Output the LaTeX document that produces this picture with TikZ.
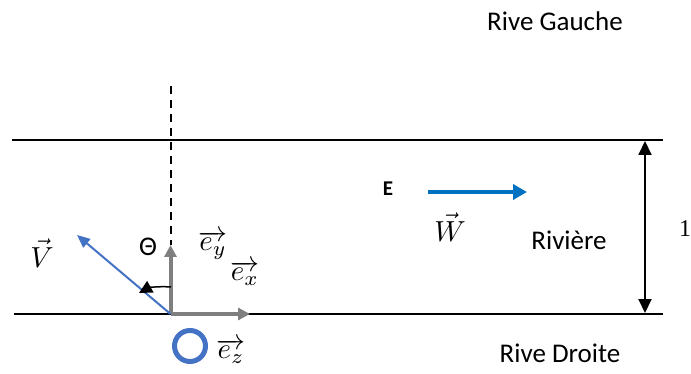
\documentclass[tikz,border=0pt]{standalone}
\usepackage{graphicx}
\usepackage{fontspec}
\setmainfont{Carlito}
\newfontfamily\serifone{Liberation Serif}
\usetikzlibrary{arrows.meta}
\definecolor{wblue}{HTML}{0070C0}
\definecolor{vblue}{HTML}{4472C4}
\definecolor{axgray}{HTML}{7F7F7F}
\newcommand{\bigmath}[1]{\scalebox{2.9}{$#1$}}
\begin{document}
\begin{tikzpicture}[x=1pt,y=-1pt,
  lbl/.style={inner sep=0pt,font=\fontsize{27}{30}\selectfont},
  mlbl/.style={inner sep=0pt},
  bank/.style={line width=2pt},
  axis/.style={axgray,line width=4pt,-{Triangle[length=12pt,width=12pt]}},
  vvec/.style={vblue,line width=2pt,-{Triangle[length=13pt,width=11pt]}},
  wvec/.style={wblue,line width=4pt,-{Triangle[length=14pt,width=15pt]}},
  dbl/.style={line width=2pt,{Triangle[length=14pt,width=13pt]}-{Triangle[length=14pt,width=13pt]}},
  angarr/.style={line width=1.5pt,-{Triangle[length=13pt,width=13pt]}}]
\useasboundingbox (0,0) rectangle (691,374);
% banks
\coordinate (tl) at (12,140);
\coordinate (tr) at (663,140);
\coordinate (bl) at (14,314);
\coordinate (br) at (663,314);
\draw[bank] (tl) -- (tr);
\draw[bank] (bl) -- (br);
% origin and axes
\coordinate (O) at (170.5,314);
\coordinate (dtop) at (170.5,86);
\coordinate (eytip) at (170.5,245);
\coordinate (extip) at (250,314);
\draw[line width=2pt,dash pattern=on 8pt off 6pt] (dtop) -- (eytip);
\draw[axis] (O) -- (eytip);
\draw[axis] (O) -- (extip);
% V vector
\coordinate (vtip) at (77,235);
\draw[vvec] (O) -- (vtip);
% angle arrow
\coordinate (a1) at (171,287);
\coordinate (a2) at (139,293);
\draw[angarr] (a1) .. controls (158,286) and (148,288) .. (a2);
% ez circle
\node[draw=vblue,line width=5pt,circle,minimum size=31pt,inner sep=0pt] (ez) at (190,346) {};
% W vector
\coordinate (w1) at (428,192);
\coordinate (w2) at (527,192);
\draw[wvec] (w1) -- (w2);
% width arrow
\coordinate (d1) at (645,141);
\coordinate (d2) at (645,313);
\draw[dbl] (d1) -- (d2);
% labels
\node[lbl] (rg) at (555,21) {Rive Gauche};
\node[lbl] (rd) at (560,353) {Rive Droite};
\node[lbl] (riv) at (569,240) {Rivière};
\node[inner sep=0pt,font=\fontsize{21}{23}\selectfont\bfseries] (E) at (388,189) {E};
\node[mlbl] (Wl) at (450,227) {\bigmath{\vec{W}}};
\node[mlbl] (Vl) at (42,253) {\bigmath{\vec{V}}};
\node[lbl] (th) at (148,247) {Θ};
\node[mlbl] (eyl) at (213,245) {\bigmath{\overrightarrow{e_y}}};
\node[mlbl] (exl) at (245,273) {\bigmath{\overrightarrow{e_x}}};
\node[mlbl] (ezl) at (231,351) {\bigmath{\overrightarrow{e_z}}};
\node[inner sep=0pt,font=\serifone\fontsize{24}{26}\selectfont] (one) at (685,229) {1};
\end{tikzpicture}
\end{document}
